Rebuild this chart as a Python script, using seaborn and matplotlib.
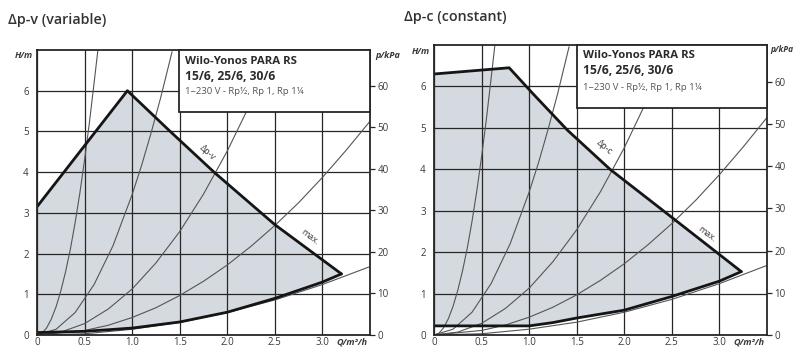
import matplotlib
matplotlib.use("Agg")
import matplotlib.pyplot as plt
import seaborn as sns
import pandas as pd
from matplotlib.patches import Rectangle

# ---------------- data ----------------
q_ticks = [0, 0.5, 1.0, 1.5, 2.0, 2.5, 3.0]
q_tick_labels = ["0", "0.5", "1.0", "1.5", "2.0", "2.5", "3.0"]
h_ticks = [0, 1, 2, 3, 4, 5, 6]
p_ticks = [0, 10, 20, 30, 40, 50, 60]

# thin system curves (same in both panels), H/m over Q/m3/h
sysA_q = [0, 0.05, 0.1, 0.15, 0.2, 0.25, 0.3, 0.35, 0.4, 0.45, 0.5, 0.55, 0.6, 0.64]
sysA_h = [0, 0.04, 0.17, 0.39, 0.69, 1.08, 1.55, 2.1, 2.75, 3.48, 4.3, 5.2, 6.19, 7.0]
sysB_q = [0, 0.2, 0.4, 0.6, 0.8, 1.0, 1.1, 1.2, 1.3, 1.42]
sysB_h = [0, 0.14, 0.55, 1.24, 2.2, 3.45, 4.17, 4.97, 5.83, 6.96]
sysC_q = [0, 0.25, 0.5, 0.75, 1.0, 1.25, 1.5, 1.75, 2.0, 2.25, 2.49]
sysC_h = [0, 0.07, 0.28, 0.64, 1.13, 1.77, 2.54, 3.46, 4.52, 5.72, 7.0]
sysD_q = [0, 0.5, 0.75, 1.0, 1.25, 1.5, 1.75, 2.0, 2.25, 2.5, 2.75, 3.0, 3.25, 3.5]
sysD_h = [0, 0.11, 0.24, 0.43, 0.67, 0.97, 1.32, 1.72, 2.18, 2.69, 3.25, 3.87, 4.54, 5.25]
sysE_q = [0, 0.5, 1.0, 1.5, 2.0, 2.5, 3.0, 3.5]
sysE_h = [0, 0.03, 0.14, 0.31, 0.55, 0.86, 1.24, 1.68]

# delta p-v (variable) operating field
pv_top_q = [0, 0.95, 1.4, 1.87, 2.5, 3.2]
pv_top_h = [3.15, 6.0, 5.0, 3.98, 2.71, 1.5]
pv_bot_q = [0, 0.5, 1.0, 1.5, 2.0, 2.5, 3.0, 3.2]
pv_bot_h = [0.06, 0.09, 0.17, 0.32, 0.56, 0.9, 1.3, 1.5]

# delta p-c (constant) operating field
pc_top_q = [0, 0.79, 1.05, 1.4, 1.85, 2.41, 2.7, 3.23]
pc_top_h = [6.3, 6.45, 5.8, 4.95, 4.0, 3.0, 2.48, 1.53]
pc_bot_q = [0, 1.0, 1.25, 1.5, 2.0, 2.5, 3.0, 3.23]
pc_bot_h = [0.22, 0.22, 0.3, 0.41, 0.6, 0.93, 1.3, 1.53]

titles = ["Δp-v (variable)", "Δp-c (constant)"]
mode_labels = ["Δp-v", "Δp-c"]
box_lines = ["Wilo-Yonos PARA RS", "15/6, 25/6, 30/6", "1~230 V - Rp½, Rp 1, Rp 1¼"]

# ---------------- style ----------------
sns.set_theme(style="white")
plt.rcParams['font.family'] = ['Open Sans', 'DejaVu Sans']

W, H = 795, 350
fig = plt.figure(figsize=(W / 100, H / 100), dpi=100)
fig.patch.set_facecolor("white")

FILL = "#d4dae0"
GRID = "#262626"
THIN = "#555555"
THICK = "#151515"
TXT = "#3a3a3a"

panels = [
    dict(px=(37, 370), py=(50, 335), top=(pv_top_q, pv_top_h), bot=(pv_bot_q, pv_bot_h),
         title=titles[0], tpos=(8, 20), mode=mode_labels[0],
         mode_pos=(1.72, 4.62, -42), max_pos=(2.78, 2.55, -37),
         box=(179, 50, 370, 112), kpa_x=1.015, kpa_fs=6.5),
    dict(px=(434, 767), py=(45, 335), top=(pc_top_q, pc_top_h), bot=(pc_bot_q, pc_bot_h),
         title=titles[1], tpos=(404, 17), mode=mode_labels[1],
         mode_pos=(1.72, 4.67, -40), max_pos=(2.78, 2.58, -37),
         box=(577, 45, 767, 108), kpa_x=1.009, kpa_fs=6.0),
]

systems = [(sysA_q, sysA_h), (sysB_q, sysB_h), (sysC_q, sysC_h), (sysD_q, sysD_h), (sysE_q, sysE_h)]

for p in panels:
    x0, x1 = p["px"]
    y0, y1 = p["py"]
    ax = fig.add_axes([x0 / W, 1 - y1 / H, (x1 - x0) / W, (y1 - y0) / H])
    ax.set_xlim(0, 3.5)
    ax.set_ylim(0, 7)
    ax.set_facecolor("white")

    # operating field
    tq, th = p["top"]
    bq, bh = p["bot"]
    poly_q = list(tq) + list(bq)[::-1]
    poly_h = list(th) + list(bh)[::-1]
    ax.fill(poly_q, poly_h, color=FILL, lw=0, zorder=0.5)

    # system curves
    for sq, sh in systems:
        sns.lineplot(x=sq, y=sh, ax=ax, sort=False, estimator=None,
                     color=THIN, lw=0.8, zorder=3)

    # boundary lines
    sns.lineplot(x=tq, y=th, ax=ax, sort=False, estimator=None, color=THICK, lw=2.0, zorder=4)
    sns.lineplot(x=bq, y=bh, ax=ax, sort=False, estimator=None, color=THICK, lw=2.0, zorder=4)

    # grid / ticks
    ax.set_xticks(q_ticks)
    ax.set_xticklabels(q_tick_labels)
    ax.set_yticks(h_ticks)
    ax.grid(True, color=GRID, lw=0.9)
    ax.set_axisbelow(False)
    ax.tick_params(axis="both", length=0, labelsize=7, labelcolor=TXT)
    ax.tick_params(axis="y", pad=6)
    ax.tick_params(axis="x", pad=1.5)
    for s in ax.spines.values():
        s.set_color(GRID)
        s.set_linewidth(1.3)
        s.set_zorder(6)
    ax.set_xlabel("")
    ax.set_ylabel("")

    ax2 = ax.twinx()
    ax2.set_ylim(0, 7 * 9.81)
    ax2.set_yticks(p_ticks)
    ax2.grid(False)
    ax2.tick_params(axis="y", direction="out", length=3.5, width=0.9, color=GRID,
                    labelsize=7, labelcolor=TXT, pad=2)
    for s in ax2.spines.values():
        s.set_visible(False)

    # info box
    bx0, by0, bx1, by1 = p["box"]
    ax.add_patch(Rectangle(((bx0 - x0) / (x1 - x0), 1 - (by1 - y0) / (y1 - y0)),
                           (bx1 - bx0) / (x1 - x0), (by1 - by0) / (y1 - y0),
                           transform=ax.transAxes, facecolor="white", edgecolor=GRID,
                           lw=1.3, zorder=7, clip_on=False))
    tx = (bx0 + 6 - x0) / (x1 - x0)
    for txt, yy, fs, wt, col in [(box_lines[0], by0 + 11, 8.2, "bold", "#2a2a2a"),
                                 (box_lines[1], by0 + 26, 8.7, "bold", "#2a2a2a"),
                                 (box_lines[2], by0 + 42, 6.8, "normal", "#555555")]:
        ax.text(tx, 1 - (yy - y0) / (y1 - y0), txt, transform=ax.transAxes,
                ha="left", va="center", fontsize=fs, fontweight=wt, color=col, zorder=8)

    # curve labels
    mq, mh, mr = p["mode_pos"]
    ax.text(mq, mh, p["mode"], rotation=mr, fontsize=6.5, color=TXT, ha="left",
            va="center", zorder=5, rotation_mode="anchor")
    xq, xh, xr = p["max_pos"]
    ax.text(xq, xh, "max.", rotation=xr, fontsize=6.5, color=TXT, ha="left",
            va="center", zorder=5, rotation_mode="anchor")

    # axis labels
    ax.text(-0.012, 1 - 6 / (y1 - y0), "H/m", transform=ax.transAxes, ha="right",
            va="center", fontsize=6.5, fontweight="bold", fontstyle="italic", color=TXT)
    ax.text(p["kpa_x"], 1 - 5 / (y1 - y0), "p/kPa", transform=ax.transAxes, ha="left",
            va="center", fontsize=p["kpa_fs"], fontweight="bold", fontstyle="italic", color=TXT)
    ax.text(0.898, -6.5 / (y1 - y0), "Q/m³/h", transform=ax.transAxes, ha="left",
            va="center", fontsize=6.5, fontweight="bold", fontstyle="italic", color=TXT)

    # panel title
    fig.text(p["tpos"][0] / W, 1 - p["tpos"][1] / H, p["title"], ha="left", va="center",
             fontsize=10.3, fontweight="semibold", color="#333333")

fig.savefig("out.png", dpi=100, facecolor="white")
